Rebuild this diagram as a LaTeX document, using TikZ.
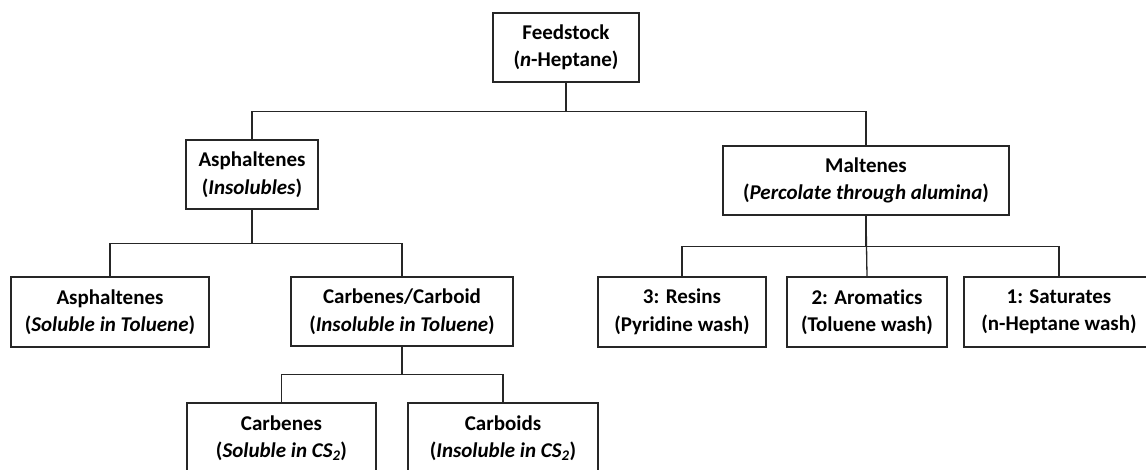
\documentclass[tikz,border=0pt]{standalone}
\usepackage{fontspec}
\setmainfont{Carlito}[Ligatures=NoCommon]
\begin{document}
\begin{tikzpicture}[x=1pt,y=-1pt,
  fbox/.style={draw=black!85,line width=1.3pt,inner sep=0pt,align=center,
    font=\fontsize{21}{27.5}\selectfont\bfseries},
  conn/.style={draw=black!85,line width=1.3pt}]
\useasboundingbox (0,0) rectangle (1146,469);
\node[fbox,minimum width=146pt,minimum height=69pt] (feed) at (566,47.5) {Feedstock\\(\textit{n}-Heptane)};
\node[fbox,minimum width=132pt,minimum height=69pt] (asph) at (252,174.5) {Asphaltenes\\(\textit{Insolubles})};
\node[fbox,minimum width=286pt,minimum height=69pt] (malt) at (866,180.5) {Maltenes\\(\textit{Percolate through alumina})};
\node[fbox,minimum width=198pt,minimum height=70pt] (asol) at (110,312) {Asphaltenes\\(\textit{Soluble in Toluene})};
\node[fbox,minimum width=222pt,minimum height=69pt] (cc) at (402,311.5) {Carbenes/Carboid\\(\textit{Insoluble in Toluene})};
\node[fbox,minimum width=189pt,minimum height=70pt] (carbenes) at (281.5,438) {Carbenes\\(\textit{Soluble in CS\textsubscript{2}})};
\node[fbox,minimum width=190pt,minimum height=70pt] (carboids) at (503,438) {Carboids\\(\textit{Insoluble in CS\textsubscript{2}})};
\node[fbox,minimum width=168pt,minimum height=70pt] (resins) at (682,312) {3: Resins\\(Pyridine wash)};
\node[fbox,minimum width=160pt,minimum height=70pt] (arom) at (867,312) {2: Aromatics\\(Toluene wash)};
\node[fbox,minimum width=190pt,minimum height=70pt] (sat) at (1059,312) {1: Saturates\\(n-Heptane wash)};
\draw[conn] (feed.south) -- ++(0,29) -| (asph.north);
\draw[conn] (feed.south) -- ++(0,29) -| (malt.north);
\draw[conn] (asph.south) -- ++(0,34) -| (asol.north);
\draw[conn] (asph.south) -- ++(0,34) -| (cc.north);
\draw[conn] (cc.south) -- ++(0,28) -| (carbenes.north);
\draw[conn] (cc.south) -- ++(0,28) -| (carboids.north);
\draw[conn] (malt.south) -- ++(0,31) -| (resins.north);
\draw[conn] (malt.south) -- (arom.north);
\draw[conn] (malt.south) -- ++(0,31) -| (sat.north);
\end{tikzpicture}
\end{document}
